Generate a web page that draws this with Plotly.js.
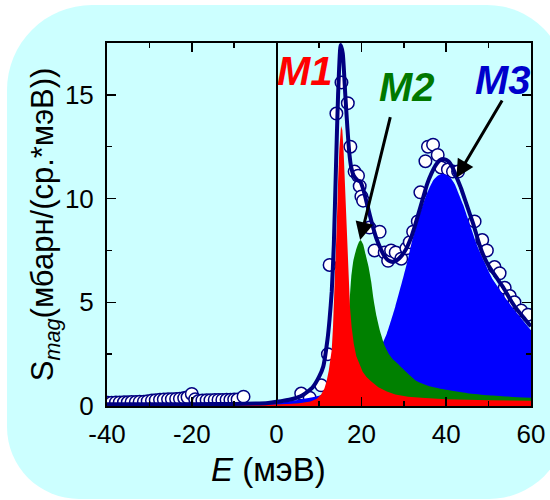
<!DOCTYPE html>
<html>
<head>
<meta charset="utf-8">
<script src="https://cdn.plot.ly/plotly-3.0.1.min.js"></script>
<style>
  html, body { margin: 0; padding: 0; background: #ffffff; }
  #wrap { position: relative; width: 550px; height: 500px; overflow: hidden; }
  #card { position: absolute; left: 7px; top: 5px; width: 560px; height: 494px;
          background: #ccffff; border-radius: 85px 80px 78px 72px; }
  #chart { position: absolute; left: 0; top: 0; width: 550px; height: 500px; }
</style>
</head>
<body>
<div id="wrap">
  <div id="card"></div>
  <div id="chart"></div>
</div>
<script>
// Measured magnetic scattering S_mag(E)
const dataE = [-39.8, -38.9, -37.9, -37.0, -36.0, -35.1, -34.2, -33.2, -32.3, -31.3,
  -30.4, -29.4, -28.5, -27.5, -26.6, -25.6, -24.7, -23.7, -22.8, -21.8,
  -21.0, -20.0, -19.2, -18.4, -17.5, -16.5, -15.6, -14.6, -13.7, -12.8,
  -11.8, -10.9, -10.0, -9.2, -7.8,
  5.8, 7.8, 10.5, 12.1, 12.5, 14.1, 15.3, 16.8, 17.4, 18.4,
  19.2, 19.6, 20.0, 20.4, 21.9, 23.1, 24.3, 25.5, 26.3, 27.0,
  28.1, 29.4, 30.6, 31.4, 32.2, 33.3, 33.9, 35.1, 35.7, 36.9,
  38.0, 38.8, 40.4, 41.6, 42.8, 46.7, 48.5, 49.6, 51.4, 52.6,
  53.8, 55.0, 56.1, 57.7, 59.3];
const dataS = [0.16, 0.16, 0.17, 0.17, 0.18, 0.18, 0.19, 0.19, 0.2, 0.21,
  0.23, 0.26, 0.28, 0.3, 0.31, 0.32, 0.33, 0.34, 0.35, 0.38,
  0.42, 0.58, 0.33, 0.24, 0.27, 0.28, 0.28, 0.29, 0.29, 0.29,
  0.3, 0.3, 0.31, 0.31, 0.45,
  0.6, 0.4, 1.0, 2.5, 6.8, 14.1, 15.6, 14.6, 12.5, 11.3,
  11.1, 10.6, 10.1, 9.9, 8.6, 7.5, 8.4, 7.4, 7.0, 7.5,
  7.4, 7.1, 7.6, 7.9, 8.4, 8.9, 10.3, 11.8, 12.5, 12.6,
  12.1, 11.5, 11.4, 11.3, 11.3, 8.9, 8.0, 7.5, 6.7, 6.4,
  5.7, 5.3, 5.0, 4.6, 4.4];

// Total fit curve
const fitE = [-40, -30, -20, -10, -5, -2, 0, 3, 6, 8.5, 10, 11, 12, 12.5, 13, 13.5, 14, 14.5,
  15.1, 15.6, 16.2, 16.7, 17.1, 17.6, 18.2, 19, 19.8, 20.5, 21.5, 22.5, 23.5, 24.5,
  25.5, 26.5, 27.5, 28.5, 29.5, 30.5, 31.5, 32.5, 33.5, 34.5, 35.5, 36.5, 37.5, 38.5,
  39.5, 40.5, 41.5, 42.5, 43.5, 44.5, 45.5, 46.5, 47.5, 48.5, 49.5, 50.5, 51.5, 52.5,
  53.5, 54.5, 55.5, 56.5, 57.5, 58.5, 59.5, 60];
const fitS = [0.08, 0.08, 0.09, 0.1, 0.12, 0.15, 0.2, 0.3, 0.5, 0.9, 1.4, 1.9, 3.2, 4.2, 5.5, 7.8, 11.5, 15.0,
  17.4, 17.0, 15.0, 13.4, 12.3, 11.5, 11.1, 10.9, 10.8, 10.4, 9.6, 8.8, 8.1, 7.6,
  7.2, 7.0, 6.95, 7.05, 7.25, 7.55, 8.0, 8.6, 9.3, 10.0, 10.7, 11.2, 11.6, 11.85,
  11.9, 11.8, 11.5, 11.0, 10.5, 9.9, 9.3, 8.7, 8.0, 7.4, 6.95, 6.6, 6.3, 6.0,
  5.7, 5.35, 5.0, 4.7, 4.45, 4.2, 3.95, 3.85];

// Mode M1
const m1E = [-40, -20, 0, 5, 8, 9.5, 10.5, 11.3, 11.8, 12.3, 12.7, 13.0, 13.3, 13.6, 13.9, 14.2,
  14.5, 14.8, 15.2, 15.5, 15.8, 16.1, 16.4, 16.7, 17.0, 17.3, 17.7, 18.2, 18.8, 19.5,
  20.3, 21.2, 22.2, 24, 26, 28, 31, 35, 40, 50, 60];
const m1S = [0.03, 0.04, 0.07, 0.12, 0.22, 0.35, 0.55, 0.85, 1.2, 1.7, 2.2, 2.7, 3.8, 5.2, 6.8, 8.8,
  10.8, 12.4, 13.5, 13.3, 12.3, 10.8, 9.0, 7.3, 5.9, 4.8, 3.8, 3.0, 2.4, 2.0,
  1.65, 1.4, 1.2, 0.9, 0.7, 0.55, 0.45, 0.38, 0.33, 0.28, 0.25];

// Mode M2
const m2E = [-40, 0, 5, 8, 10, 12, 14, 15.5, 16.3, 16.8, 17.2, 17.6, 18.1, 18.7, 19.3, 19.8,
  20.4, 21.0, 21.7, 22.3, 22.9, 23.6, 24.4, 25.5, 26.5, 27.7, 29, 31, 33, 36, 40,
  45, 50, 55, 60];
const m2S = [0.02, 0.06, 0.12, 0.2, 0.3, 0.5, 0.9, 1.6, 2.6, 3.8, 5.0, 6.2, 7.0, 7.5, 7.85, 8.0,
  7.8, 7.3, 6.7, 6.0, 5.1, 4.3, 3.6, 2.9, 2.5, 2.2, 1.95, 1.55, 1.2, 0.95, 0.78,
  0.62, 0.52, 0.45, 0.4];

// Mode M3
const m3E = [-40, 0, 10, 15, 20, 22, 24, 26, 28, 30, 31, 32, 33, 34, 35, 36, 37, 38, 39, 40,
  41, 42, 43, 44, 45, 46, 47, 48, 49, 50, 51, 52, 54, 56, 58, 60];
const m3S = [0.05, 0.15, 0.5, 0.9, 1.5, 2.0, 2.6, 3.5, 4.8, 6.3, 7.1, 8.0, 8.7, 9.4, 10.0, 10.5, 10.9, 11.1, 11.2, 11.15,
  11.0, 10.7, 10.2, 9.7, 9.1, 8.5, 7.9, 7.4, 6.95, 6.5, 6.1, 5.8, 5.2, 4.65, 4.15, 3.65];

const xTickVals = [-40, -20, 0, 20, 40, 60];
const xTickText = ['-40', '-20', '0', '20', '40', '60'];
const yTickVals = [0, 5, 10, 15];
const yTickText = ['0', '5', '10', '15'];

const font = 'Arial, "Liberation Sans", sans-serif';
const navy = '#000080';

const traces = [
  { x: dataE, y: dataS, type: 'scatter', mode: 'markers', name: 'data',
    marker: { symbol: 'circle', size: 12.5, color: '#ffffff', line: { color: navy, width: 1.5 } } },
  { x: m3E, y: m3S, type: 'scatter', mode: 'lines', name: 'M3', fill: 'tozeroy',
    fillcolor: '#0000ff', line: { width: 0, color: '#0000ff', shape: 'spline', smoothing: 0.5 } },
  { x: m2E, y: m2S, type: 'scatter', mode: 'lines', name: 'M2', fill: 'tozeroy',
    fillcolor: '#008000', line: { width: 0, color: '#008000', shape: 'spline', smoothing: 0.5 } },
  { x: m1E, y: m1S, type: 'scatter', mode: 'lines', name: 'M1', fill: 'tozeroy',
    fillcolor: '#ff0000', line: { width: 0, color: '#ff0000' } },
  { x: fitE, y: fitS, type: 'scatter', mode: 'lines', name: 'fit',
    line: { color: navy, width: 4, shape: 'spline', smoothing: 0.5 } }
];

const layout = {
  width: 550, height: 500,
  margin: { l: 107, r: 19, t: 43, b: 94 },
  paper_bgcolor: 'rgba(0,0,0,0)',
  plot_bgcolor: 'rgba(0,0,0,0)',
  showlegend: false,
  font: { family: font, color: '#000000' },
  xaxis: {
    range: [-40, 60], tickmode: 'array', tickvals: xTickVals, ticktext: xTickText,
    ticks: 'inside', ticklen: 9, tickwidth: 1.5, tickcolor: '#000',
    minor: { dtick: 10, tick0: 0, ticks: 'inside', ticklen: 5, tickwidth: 1.5, tickcolor: '#000' },
    showline: true, linecolor: '#000', linewidth: 2, mirror: 'allticks',
    showgrid: false, zeroline: true, zerolinecolor: '#000', zerolinewidth: 2,
    tickfont: { size: 26, family: font }, ticklabelstandoff: 4
  },
  yaxis: {
    range: [0, 17.5], tickmode: 'array', tickvals: yTickVals, ticktext: yTickText,
    ticks: 'inside', ticklen: 9, tickwidth: 1.5, tickcolor: '#000',
    minor: { dtick: 2.5, tick0: 0, ticks: 'inside', ticklen: 5, tickwidth: 1.5, tickcolor: '#000' },
    showline: true, linecolor: '#000', linewidth: 2, mirror: 'allticks',
    showgrid: false, zeroline: false,
    tickfont: { size: 26, family: font }, ticklabelstandoff: 6,
    title: { text: 'S<sub><i>mag</i></sub>(мбарн/(ср.*мэВ))', font: { size: 31, family: font }, standoff: 2 }
  },
  annotations: [
    { xref: 'paper', yref: 'paper', x: 0.38, y: -0.176, xanchor: 'center', yanchor: 'middle',
      text: '<i>E</i> (мэВ)', showarrow: false, font: { size: 33, family: font } },
    { x: 6.6, y: 16.15, text: '<b><i>M1</i></b>', showarrow: false,
      font: { size: 40, family: font, color: '#ff0000' } },
    { x: 30.7, y: 15.4, text: '<b><i>M2</i></b>', showarrow: false,
      font: { size: 40, family: font, color: '#007800' } },
    { x: 53.3, y: 15.7, text: '<b><i>M3</i></b>', showarrow: false,
      font: { size: 40, family: font, color: '#0000cc' } },
    { x: 19.7, y: 8.0, ax: 26.9, ay: 14.0, axref: 'x', ayref: 'y', text: '',
      showarrow: true, arrowhead: 2, arrowsize: 1.2, arrowwidth: 3, arrowcolor: '#000', standoff: 0 },
    { x: 42.4, y: 11.0, ax: 53.4, ay: 14.8, axref: 'x', ayref: 'y', text: '',
      showarrow: true, arrowhead: 2, arrowsize: 1.2, arrowwidth: 3, arrowcolor: '#000', standoff: 0 }
  ]
};

Plotly.newPlot('chart', traces, layout, { staticPlot: true, displayModeBar: false });
</script>
</body>
</html>
